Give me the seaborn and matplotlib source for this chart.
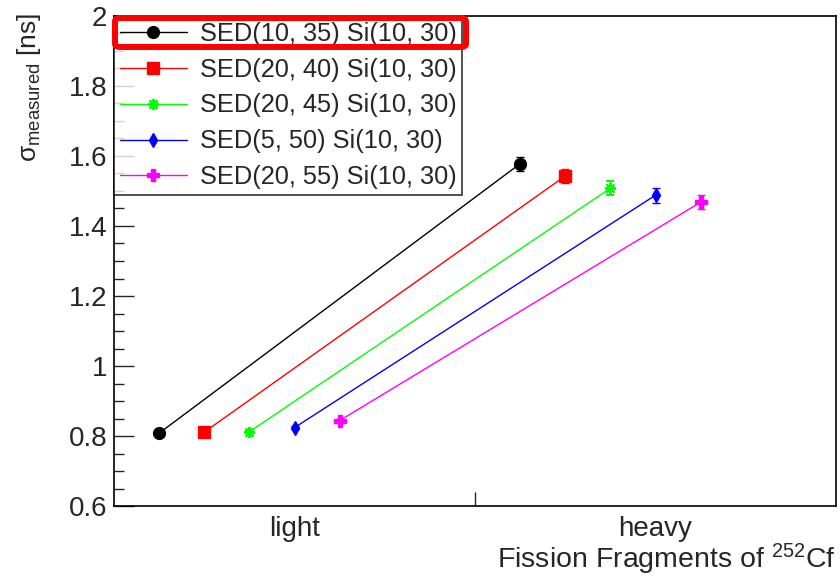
import numpy as np
import pandas as pd
import matplotlib
matplotlib.use("Agg")
import matplotlib.pyplot as plt
import seaborn as sns
from matplotlib.patches import FancyBboxPatch
from matplotlib.lines import Line2D

# data
fragments = ["light", "heavy"]
series = ["SED(10, 35) Si(10, 30)", "SED(20, 40) Si(10, 30)",
          "SED(20, 45) Si(10, 30)", "SED(5, 50) Si(10, 30)",
          "SED(20, 55) Si(10, 30)"]
sigma_light = [0.808, 0.811, 0.812, 0.824, 0.844]
sigma_heavy = [1.578, 1.543, 1.508, 1.488, 1.468]
err_light = [0.004, 0.004, 0.004, 0.004, 0.004]
err_heavy = [0.020, 0.020, 0.020, 0.021, 0.020]

colors = ["black", "red", "#00ff00", "blue", "#ff00ff"]
markers = ["o", "s", (8, 2, 0), "d", "P"]
msizes = [8.5, 8, 8, 7.5, 9]
mews = [1, 1, 1.4, 1, 1]

sns.set_style("ticks")
plt.rcParams['font.family'] = ['Liberation Sans', 'DejaVu Sans']
plt.rcParams['mathtext.default'] = 'regular'

rows = []
for i, s in enumerate(series):
    for j, frag in enumerate(fragments):
        val = sigma_light[i] if frag == "light" else sigma_heavy[i]
        err = err_light[i] if frag == "light" else err_heavy[i]
        # dodge each series inside its category bin
        rows.append({"series": s, "fragment": frag, "x": j + (i + 1) / 8.0,
                     "sigma": val, "err": err})
df = pd.DataFrame(rows)

fig = plt.figure(figsize=(8.4, 5.78), dpi=100)
ax = fig.add_axes([114 / 840, 72 / 578, 722 / 840, 490 / 578])

handles = []
for i, s in enumerate(series):
    d = df[df.series == s]
    sns.lineplot(data=d, x="x", y="sigma", color=colors[i], linewidth=1, ax=ax,
                 legend=False, errorbar=None)
    ax.errorbar(d.x.values, d.sigma.values, yerr=d.err.values, fmt='',
                marker=markers[i], linestyle='none',
                color=colors[i], markersize=msizes[i], markeredgewidth=mews[i],
                ecolor=colors[i], elinewidth=1, capsize=3, capthick=1, zorder=3)
    handles.append(Line2D([], [], color=colors[i], marker=markers[i], markersize=msizes[i],
                          markeredgewidth=mews[i], markeredgecolor=colors[i], linewidth=1))

ax.set_xlim(0, 2)
ax.set_ylim(0.6, 2)
ax.set_xticks([0.5, 1.5])
ax.set_xticklabels(fragments)
ax.set_xticks([1.0], minor=True)
ax.tick_params(axis='x', which='major', length=0, labelsize=20, pad=7)
ax.tick_params(axis='x', which='minor', direction='in', length=10, width=1)
ax.set_yticks(np.arange(0.6, 2.01, 0.2))
ax.set_yticklabels(["0.6", "0.8", "1", "1.2", "1.4", "1.6", "1.8", "2"])
ax.set_yticks(np.arange(0.6, 2.0, 0.05), minor=True)
ax.tick_params(axis='y', which='major', direction='in', length=14.4, width=1, labelsize=20, pad=5)
ax.tick_params(axis='y', which='minor', direction='in', length=7.2, width=1)
for sp in ax.spines.values():
    sp.set_linewidth(1.2)
    sp.set_color("black")

ax.set_ylabel("σ$_{measured}$ [ns]", fontsize=19, loc='top')
ax.yaxis.set_label_coords(-0.098, 1.007)
ax.set_xlabel("Fission Fragments of $^{252}$Cf", fontsize=20.5, loc='right', labelpad=0)

leg = ax.legend(handles, series, loc='upper left', bbox_to_anchor=(0, 1), borderaxespad=0,
                fontsize=18.3, frameon=True, fancybox=False, handlelength=2.65,
                handletextpad=0.5, labelspacing=0.47, borderpad=0.22)
leg.get_frame().set_edgecolor("black")
leg.get_frame().set_linewidth(1.2)

# red highlight box round the first legend entry
box = FancyBboxPatch((115 / 840, 1 - 47 / 578), 351 / 840, 29 / 578,
                     boxstyle="round,pad=0,rounding_size=0.006", transform=fig.transFigure,
                     facecolor='none', edgecolor='red', linewidth=4.3, clip_on=False, zorder=10)
fig.patches.append(box)

fig.savefig("out.png", dpi=100)
